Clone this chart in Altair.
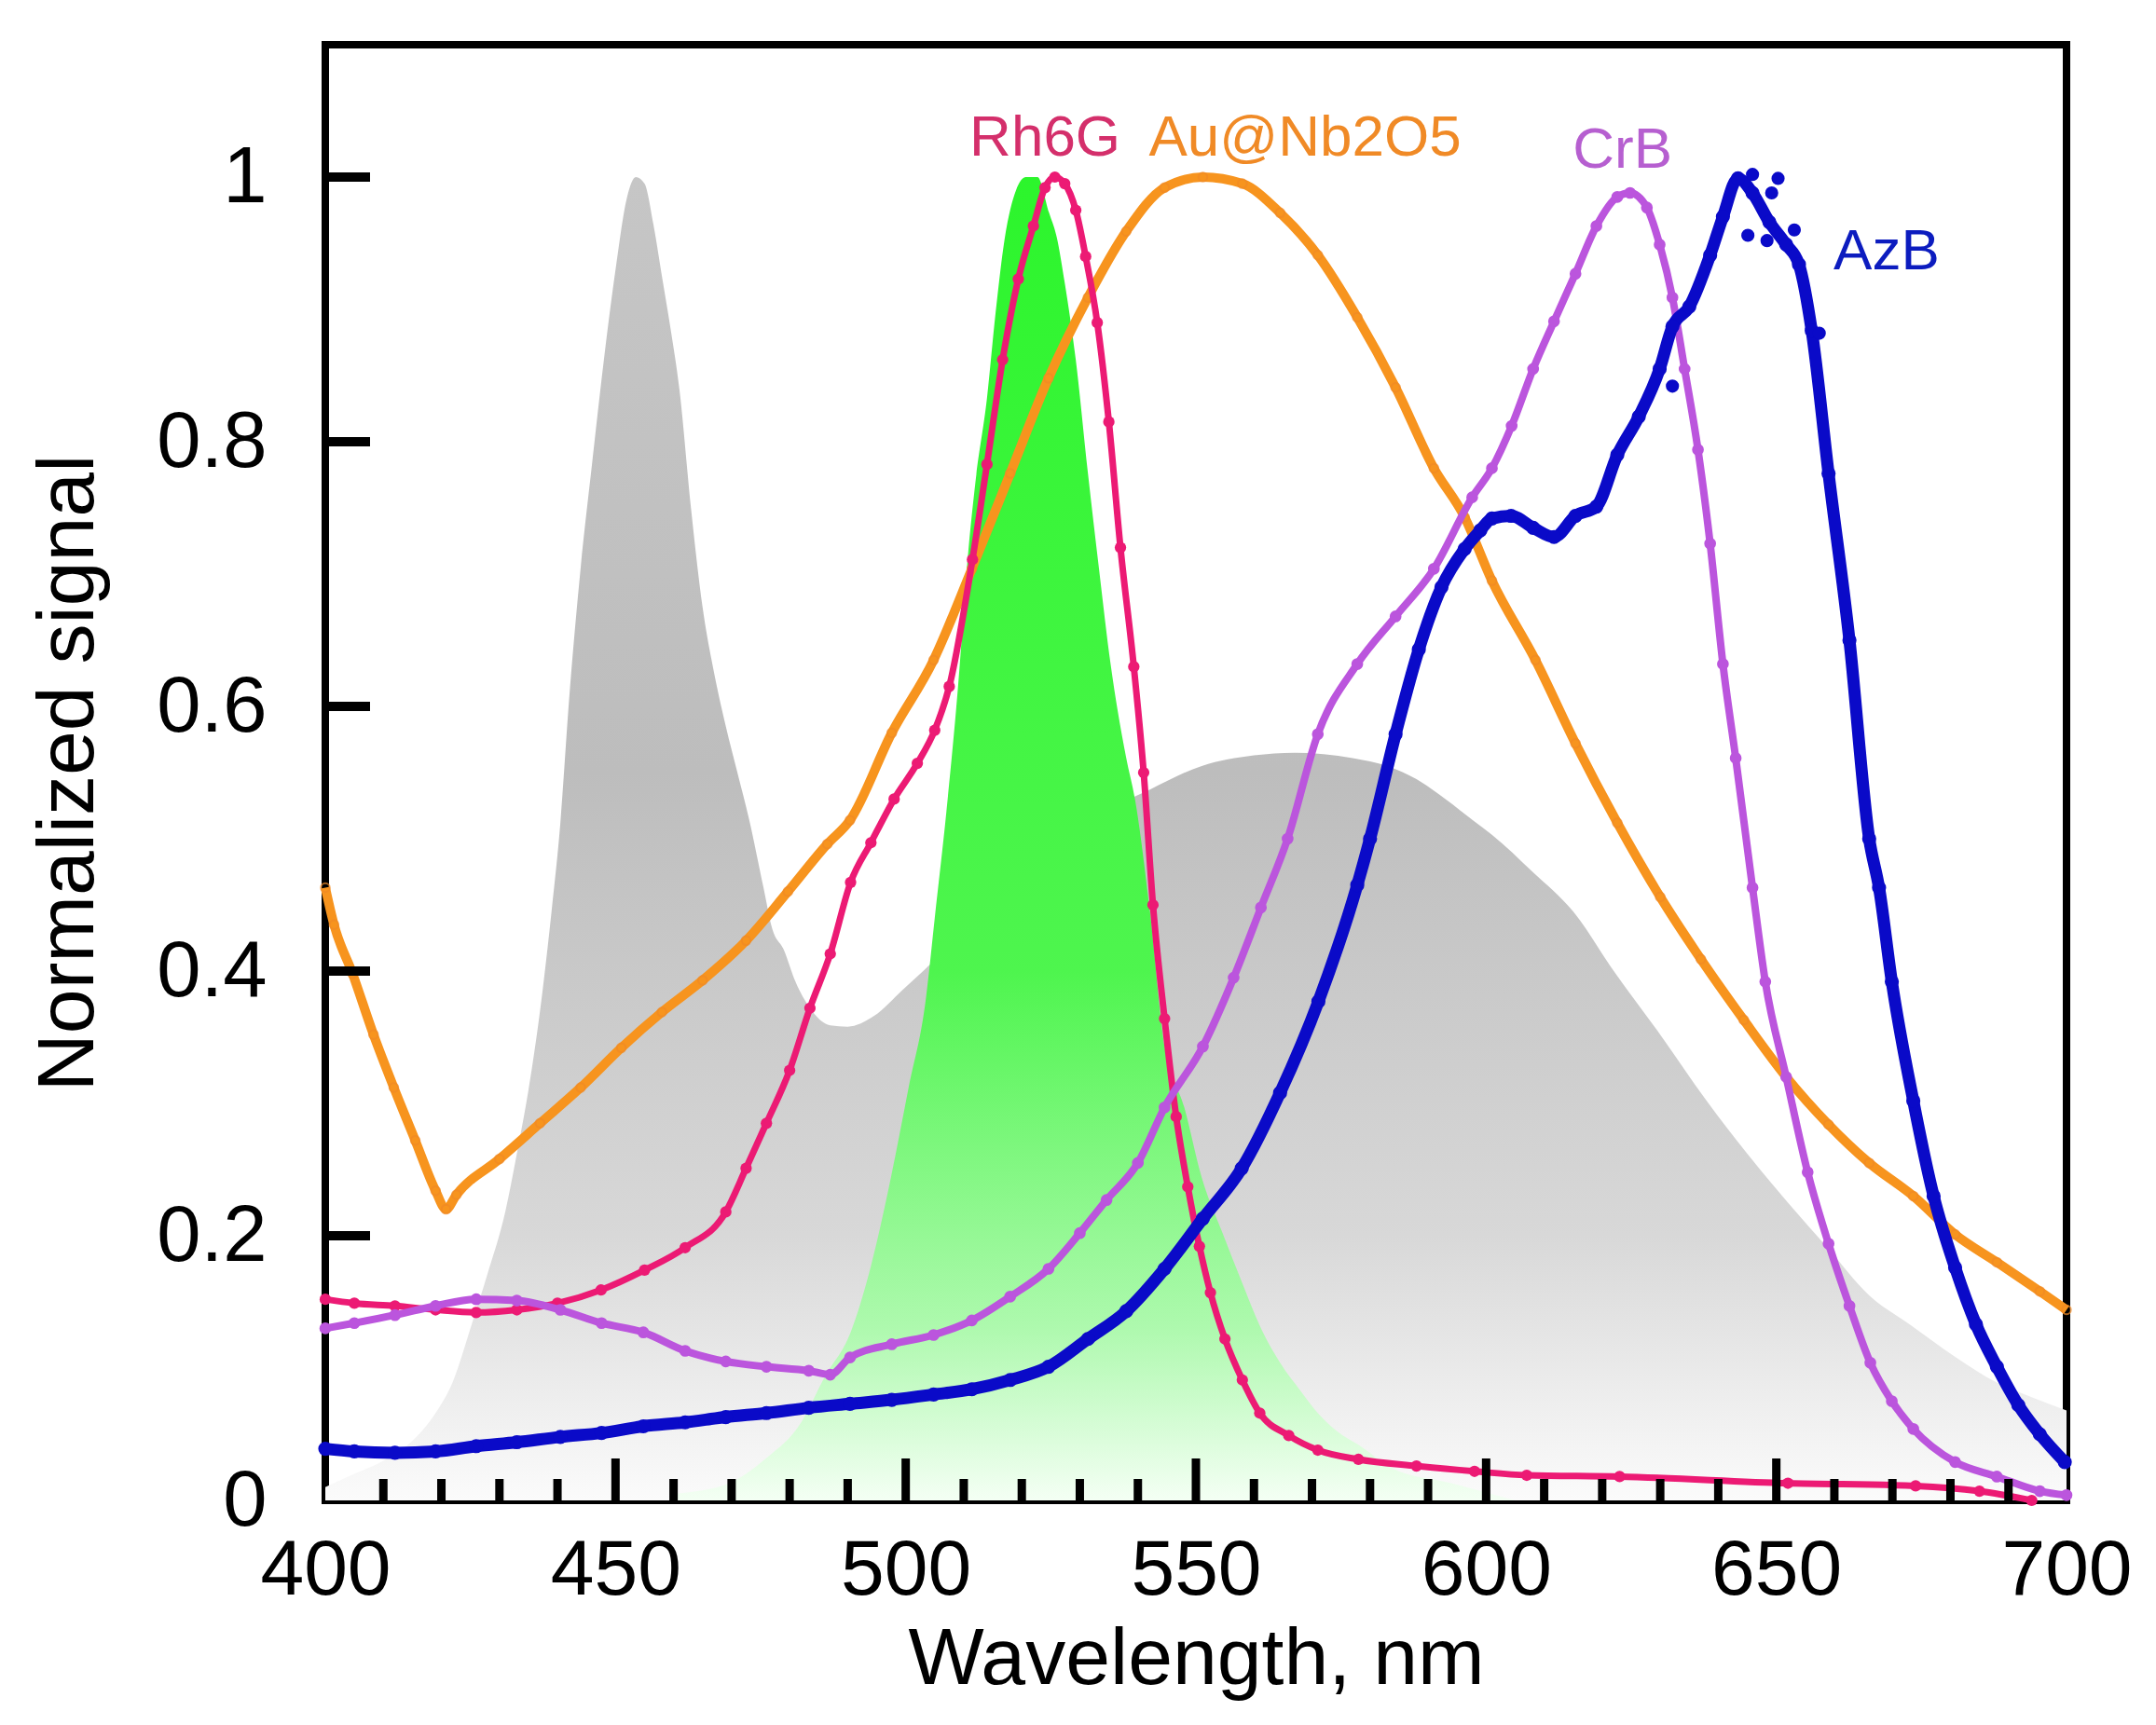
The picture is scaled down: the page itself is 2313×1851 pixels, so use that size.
import altair as alt
import pandas as pd

# white LED spectrum (grey filled)
led_wl = [400, 405, 410, 415, 419, 422, 425, 428, 431, 433, 435, 437, 439, 440.5, 442, 444,
          446, 448, 450, 452, 453.5, 455, 456.5, 458, 459.5, 461, 463, 465, 467, 469, 471,
          473, 475.5, 477, 479, 481, 483.5, 487, 490, 494.5, 499.5, 503, 510, 520, 530, 542,
          551, 560, 567, 577, 583, 588, 593, 598, 601, 608, 615, 622, 630, 638, 645, 652,
          659, 666, 673, 681, 688, 694, 700]
led_val = [0.01, 0.02, 0.03, 0.045, 0.066, 0.09, 0.13, 0.172, 0.218, 0.262, 0.31, 0.37, 0.446,
           0.512, 0.605, 0.705, 0.785, 0.862, 0.93, 0.985, 1.0, 0.995, 0.965, 0.925, 0.885, 0.84,
           0.75, 0.675, 0.625, 0.585, 0.55, 0.515, 0.463, 0.432, 0.416, 0.392, 0.372, 0.359,
           0.358, 0.366, 0.386, 0.40, 0.43, 0.47, 0.51, 0.537, 0.555, 0.563, 0.565, 0.561,
           0.555, 0.545, 0.53, 0.513, 0.503, 0.475, 0.445, 0.40, 0.352, 0.302, 0.262, 0.225,
           0.19, 0.155, 0.133, 0.108, 0.089, 0.078, 0.068]

# green LED (green filled)
grn_wl = [460, 469, 476, 482, 486, 490.5, 494, 497.5, 500.5, 503.5, 505, 507, 509, 510.8,
          512, 514, 515.5, 517, 519, 520.7, 522.7, 524.7, 526, 527.4, 529.3, 531.4, 533.3,
          535.3, 538, 539.5, 542, 544.6, 548, 551, 554.6, 558, 561, 564.5, 568, 571, 574.4,
          578, 584, 594, 600, 605]
grn_val = [0.005, 0.012, 0.032, 0.059, 0.093, 0.127, 0.177, 0.245, 0.312, 0.38, 0.44, 0.52,
           0.614, 0.718, 0.769, 0.833, 0.898, 0.952, 0.99, 1.0, 1.0, 0.973, 0.955, 0.92, 0.862,
           0.776, 0.704, 0.632, 0.561, 0.53, 0.448, 0.343, 0.297, 0.244, 0.202, 0.164, 0.132,
           0.104, 0.083, 0.066, 0.052, 0.042, 0.024, 0.013, 0.006, 0.0]

# Rh6G
rh_wl = [400, 405, 412, 419, 426, 433, 440, 447.5, 455, 462, 469, 472.5, 476, 480, 483.5, 487,
         490.5, 494, 498, 502, 505, 507.5, 511.5, 514, 516.7, 519.4, 522, 524, 525.7, 527.4,
         529.3, 531, 533, 535, 537, 539.3, 541, 542.6, 544.6, 546.6, 548.6, 550.6, 552.5, 555,
         558, 561, 566, 571, 578, 588, 598, 607, 623, 652, 674, 685, 694]
rh_val = [0.152, 0.149, 0.147, 0.144, 0.142, 0.144, 0.149, 0.159, 0.174, 0.191, 0.218, 0.251,
          0.285, 0.325, 0.372, 0.413, 0.467, 0.497, 0.53, 0.557, 0.582, 0.615, 0.711, 0.783,
          0.862, 0.923, 0.963, 0.992, 1.0, 0.995, 0.975, 0.94, 0.89, 0.815, 0.72, 0.63, 0.55,
          0.45, 0.364, 0.29, 0.237, 0.192, 0.157, 0.122, 0.091, 0.066, 0.049, 0.038, 0.031,
          0.026, 0.022, 0.019, 0.018, 0.013, 0.011, 0.007, 0.0]

# Au@Nb2O5
au_wl = [400, 401.5, 404.7, 408.3, 411.8, 415.5, 419, 420.8, 422.6, 430, 437, 444, 451, 458,
         465, 472.5, 479.7, 486.5, 490.4, 497.6, 504.8, 511.4, 518, 524.6, 531.4, 538, 544.6,
         551.2, 558, 564.5, 571, 577.8, 584.4, 591, 596.3, 601, 608.5, 615.4, 622.6, 630, 637,
         644.4, 651.7, 659, 666, 673.6, 680.8, 688, 695.4, 700]
au_val = [0.463, 0.435, 0.398, 0.352, 0.312, 0.272, 0.234, 0.22, 0.231, 0.258, 0.285, 0.312,
          0.342, 0.369, 0.393, 0.423, 0.46, 0.496, 0.514, 0.58, 0.635, 0.704, 0.776, 0.848,
          0.909, 0.959, 0.992, 1.0, 0.995, 0.973, 0.941, 0.894, 0.841, 0.78, 0.743, 0.695,
          0.635, 0.572, 0.512, 0.456, 0.409, 0.363, 0.32, 0.284, 0.255, 0.23, 0.201, 0.18,
          0.158, 0.144]

# CrB
crb_wl = [400, 405, 412, 419, 426, 433, 440.5, 447.6, 454.8, 462, 469, 476, 483.3, 487,
          490.4, 497.6, 504.8, 511.4, 518, 524.6, 530, 534.6, 540, 544.6, 551.2, 556.5, 561.2,
          565.8, 571, 577.8, 584.4, 591, 597.6, 601, 604.4, 608.1, 611.7, 615.4, 619, 622.6,
          624.8, 627.7, 629.9, 632.1, 634.2, 636.5, 638.6, 640.8, 643, 645.9, 648.1, 651.7,
          655.4, 659, 662.6, 666.2, 669.9, 673.6, 680.8, 688, 695.4, 700]
crb_val = [0.130, 0.134, 0.14, 0.147, 0.152, 0.151, 0.144, 0.134, 0.127, 0.113, 0.105, 0.101,
           0.098, 0.095, 0.108, 0.118, 0.125, 0.136, 0.154, 0.175, 0.202, 0.227, 0.255, 0.297,
           0.343, 0.395, 0.448, 0.5, 0.579, 0.632, 0.668, 0.704, 0.758, 0.78, 0.812, 0.855,
           0.891, 0.927, 0.963, 0.985, 0.988, 0.977, 0.949, 0.909, 0.855, 0.794, 0.723, 0.632,
           0.561, 0.463, 0.392, 0.32, 0.248, 0.194, 0.147, 0.104, 0.075, 0.054, 0.029, 0.018,
           0.007, 0.004]

# AzB
azb_wl = [400, 405, 412, 419, 426, 433, 440.5, 447.6, 454.8, 462, 469, 476, 483.3, 490.4,
          497.6, 504.8, 511.4, 518, 524.6, 531.4, 538, 544.6, 551.2, 557.9, 564.5, 571.1,
          577.8, 580, 584.4, 588.4, 592.3, 596.3, 599, 601, 604.3, 608.1, 611.7, 615.4, 619,
          622.6, 626.3, 629.9, 632.1, 635, 638.6, 640.8, 643.4, 645.9, 648.8, 651.7, 653.9,
          656.1, 659, 662.6, 666, 667.7, 669.9, 673.6, 677.1, 680.8, 684.4, 688, 691.7, 695.4,
          699.7]
azb_val = [0.039, 0.037, 0.036, 0.037, 0.041, 0.044, 0.048, 0.051, 0.056, 0.059, 0.063, 0.066,
           0.070, 0.073, 0.076, 0.08, 0.084, 0.091, 0.101, 0.122, 0.143, 0.175, 0.213, 0.251,
           0.308, 0.377, 0.465, 0.5, 0.579, 0.643, 0.69, 0.719, 0.733, 0.742, 0.744, 0.735,
           0.728, 0.744, 0.751, 0.79, 0.819, 0.855, 0.887, 0.902, 0.941, 0.97, 0.999, 0.988,
           0.966, 0.949, 0.934, 0.884, 0.776, 0.65, 0.5, 0.463, 0.392, 0.302, 0.23, 0.176,
           0.133, 0.101, 0.072, 0.05, 0.029]
# scattered AzB points off the fitted curve near the peak
azb_extra_wl = [645.9, 650.3, 649.2, 645.1, 648.4, 653.1, 632.1, 657.4]
azb_extra_val = [1.002, 0.999, 0.988, 0.956, 0.952, 0.96, 0.842, 0.882]

label_text = ["Rh6G", "Au@Nb2O5", "CrB", "AzB"]
label_x = [524.0, 568.8, 623.5, 669.0]
label_y = [1.016, 1.016, 1.007, 0.93]
label_color = ["#d42f6b", "#f08a26", "#b65fd0", "#0c1cbf"]

x_major = [450, 500, 550, 600, 650]
x_minor = [410, 420, 430, 440, 460, 470, 480, 490, 510, 520, 530, 540, 560, 570, 580, 590,
           610, 620, 630, 640, 660, 670, 680, 690]
y_ticks = [0.2, 0.4, 0.6, 0.8, 1.0]

W, H = 1868, 1562
FONT = "Liberation Sans"


def frame(wl, val):
    return pd.DataFrame({"wl": wl, "val": val})


x_enc = alt.X("wl:Q", scale=alt.Scale(domain=[400, 700], nice=False, zero=False),
              title="Wavelength, nm",
              axis=alt.Axis(values=[400, 450, 500, 550, 600, 650, 700], ticks=False,
                            domain=False, grid=False, labelFontSize=84, labelPadding=34,
                            labelFlush=False, labelOverlap=False, titleFontSize=86,
                            titleFontWeight="normal", titlePadding=11))
y_enc = alt.Y("val:Q", scale=alt.Scale(domain=[0, 1.1], nice=False),
              title="Normalized signal",
              axis=alt.Axis(values=[0, 0.2, 0.4, 0.6, 0.8, 1.0], format=".1~f", ticks=False,
                            domain=False, grid=False, labelFontSize=85, labelPadding=63,
                            labelFlush=False, titleFontSize=86, titleFontWeight="normal",
                            titlePadding=50))

grey_fill = alt.Gradient(gradient="linear", x1=0, x2=0, y1=0, y2=1, stops=[
    alt.GradientStop(color="#c6c6c6", offset=0),
    alt.GradientStop(color="#bdbdbd", offset=0.45),
    alt.GradientStop(color="#d8d8d8", offset=0.8),
    alt.GradientStop(color="#fbfbfb", offset=1)])
green_fill = alt.Gradient(gradient="linear", x1=0, x2=0, y1=0, y2=1, stops=[
    alt.GradientStop(color="#2cf52c", offset=0),
    alt.GradientStop(color="#4ef54e", offset=0.6),
    alt.GradientStop(color="#aef9ae", offset=0.87),
    alt.GradientStop(color="#f4fff4", offset=1)])

led = alt.Chart(frame(led_wl, led_val)).mark_area(
    color=grey_fill, interpolate="monotone").encode(x=x_enc, y=y_enc)
grn = alt.Chart(frame(grn_wl, grn_val)).mark_area(
    color=green_fill, interpolate="monotone").encode(x=x_enc, y=y_enc)


def curve(wl, val, color, width, dot):
    df = frame(wl, val)
    line = alt.Chart(df).mark_line(color=color, strokeWidth=width,
                                   interpolate="monotone").encode(x=x_enc, y=y_enc)
    pts = alt.Chart(df).mark_circle(color=color, opacity=1, size=dot).encode(x=x_enc, y=y_enc)
    return line + pts


au_df = frame(au_wl, au_val)
au = (alt.Chart(au_df).mark_line(color="#f7941e", strokeWidth=10, interpolate="monotone")
      .encode(x=x_enc, y=y_enc)
      + alt.Chart(au_df).mark_point(color="#f08a26", size=90, strokeWidth=2)
      .encode(x=x_enc, y=y_enc))
rh = curve(rh_wl, rh_val, "#ec1a74", 7, 150)
crb = curve(crb_wl, crb_val, "#bb55dd", 8, 160)
azb = curve(azb_wl, azb_val, "#0a0ac8", 13, 230)
azb_dots = alt.Chart(frame(azb_extra_wl, azb_extra_val)).mark_circle(
    color="#0a0ac8", opacity=1, size=200).encode(x=x_enc, y=y_enc)

labels = alt.Chart(pd.DataFrame({"wl": label_x, "val": label_y, "txt": label_text,
                                 "col": label_color})).mark_text(
    font=FONT, fontSize=62, align="center", baseline="alphabetic").encode(
    x=x_enc, y=y_enc, text="txt:N", color=alt.Color("col:N", scale=None))

maj = alt.Chart(pd.DataFrame({"wl": x_major})).mark_rule(color="black", strokeWidth=9).encode(
    x=x_enc, y=alt.value(H), y2=alt.value(H - 45))
mino = alt.Chart(pd.DataFrame({"wl": x_minor})).mark_rule(color="black", strokeWidth=9).encode(
    x=x_enc, y=alt.value(H), y2=alt.value(H - 23))
yt = alt.Chart(pd.DataFrame({"val": y_ticks})).mark_rule(color="black", strokeWidth=10).encode(
    y=y_enc, x=alt.value(0), x2=alt.value(48))

chart = alt.layer(led, grn, au, rh, crb, azb, azb_dots, maj, mino, yt, labels).properties(
    width=W, height=H, background="white",
    padding={"left": 22, "top": 40, "right": 5, "bottom": 5}
).configure_view(stroke="black", strokeWidth=8).configure_axis(
    labelFont=FONT, titleFont=FONT, labelColor="black", titleColor="black")

chart.save("out.html", embed_options={"renderer": "svg", "actions": False})
